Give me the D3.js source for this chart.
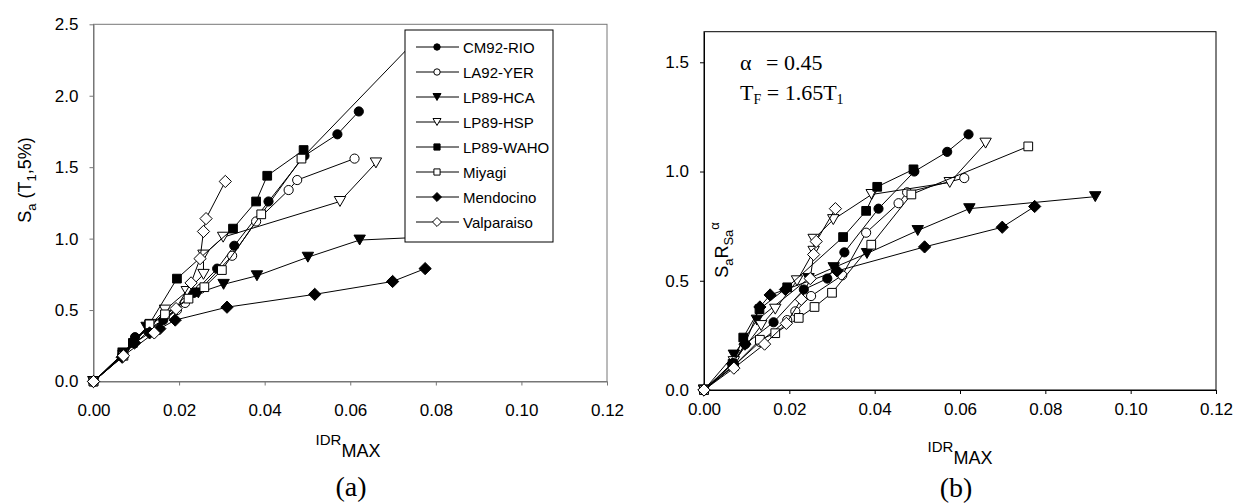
<!DOCTYPE html>
<html>
<head>
<meta charset="utf-8">
<script src="https://cdn.jsdelivr.net/npm/d3@7"></script>
<style>
body { margin: 0; background: #fff; }
text { font-family: Arial, "Liberation Sans", sans-serif; }
.serif { font-family: "Times New Roman", "Liberation Serif", serif; }
</style>
</head>
<body>
<div id="chart"></div>
<script>
var seriesNames = ["CM92-RIO", "LA92-YER", "LP89-HCA", "LP89-HSP", "LP89-WAHO", "Miyagi", "Mendocino", "Valparaiso"];
var xTicks = [0, 0.02, 0.04, 0.06, 0.08, 0.10, 0.12];
var yTicksA = [0, 0.5, 1.0, 1.5, 2.0, 2.5];
var yTicksB = [0, 0.5, 1.0, 1.5];

// panel (a): [IDR_MAX, Sa(T1,5%)]
var cm92A = [[0,0],[0.0067,0.18],[0.0097,0.31],[0.0163,0.43],[0.0234,0.62],[0.0289,0.79],[0.0329,0.95],[0.0409,1.26],[0.0493,1.58],[0.0570,1.73],[0.0620,1.89]];
var la92A = [[0,0],[0.0070,0.19],[0.0131,0.36],[0.0195,0.50],[0.0214,0.55],[0.0251,0.65],[0.0324,0.88],[0.0380,1.12],[0.0456,1.34],[0.0476,1.41],[0.0610,1.56]];
var hcaA = [[0,0],[0.0070,0.20],[0.0124,0.38],[0.0245,0.62],[0.0304,0.68],[0.0382,0.74],[0.0501,0.87],[0.0622,0.99],[0.0917,1.03]];
var hspA = [[0,0],[0.0070,0.19],[0.0134,0.40],[0.0167,0.50],[0.0218,0.63],[0.0257,0.75],[0.0257,0.885],[0.0303,1.01],[0.0576,1.26],[0.0660,1.53]];
var wahoA = [[0,0],[0.0067,0.19],[0.0092,0.27],[0.0130,0.40],[0.0195,0.72],[0.0326,1.07],[0.0380,1.26],[0.0406,1.44],[0.0491,1.62]];
var miyagiA = [[0,0],[0.0070,0.18],[0.0131,0.40],[0.0167,0.47],[0.0222,0.58],[0.0259,0.66],[0.0300,0.78],[0.0392,1.17],[0.0486,1.56],[0.0760,2.41]];
var mendoA = [[0,0],[0.0067,0.17],[0.0096,0.27],[0.0131,0.34],[0.0155,0.37],[0.0191,0.43],[0.0312,0.52],[0.0517,0.61],[0.0699,0.70],[0.0775,0.79]];
var valpA = [[0,0],[0.0070,0.18],[0.0142,0.34],[0.0193,0.51],[0.0228,0.69],[0.0249,0.86],[0.0257,1.05],[0.0263,1.14],[0.0308,1.40]];

// panel (b): [IDR_MAX, Sa*RSa^alpha]
var cm92B = [[0,0],[0.0067,0.11],[0.0097,0.21],[0.0163,0.31],[0.0234,0.46],[0.0289,0.51],[0.0329,0.63],[0.0409,0.83],[0.0493,1.00],[0.0570,1.09],[0.0620,1.17]];
var la92B = [[0,0],[0.0070,0.11],[0.0131,0.22],[0.0195,0.32],[0.0214,0.36],[0.0251,0.43],[0.0324,0.525],[0.0380,0.72],[0.0456,0.855],[0.0476,0.905],[0.0610,0.97]];
var hcaB = [[0,0],[0.0070,0.16],[0.0124,0.32],[0.0245,0.51],[0.0304,0.56],[0.0382,0.625],[0.0501,0.73],[0.0622,0.83],[0.0917,0.885]];
var hspB = [[0,0],[0.0070,0.13],[0.0134,0.295],[0.0167,0.37],[0.0218,0.50],[0.0257,0.635],[0.0257,0.69],[0.0303,0.78],[0.0393,0.895],[0.0576,0.95],[0.0660,1.13]];
var wahoB = [[0,0],[0.0067,0.12],[0.0092,0.24],[0.0130,0.37],[0.0195,0.47],[0.0326,0.70],[0.0380,0.82],[0.0406,0.93],[0.0491,1.01]];
var miyagiB = [[0,0],[0.0070,0.11],[0.0131,0.23],[0.0167,0.26],[0.0222,0.33],[0.0259,0.38],[0.0300,0.445],[0.0392,0.665],[0.0486,0.895],[0.0760,1.115]];
var mendoB = [[0,0],[0.0067,0.12],[0.0096,0.21],[0.0131,0.38],[0.0155,0.435],[0.0191,0.46],[0.0312,0.545],[0.0517,0.655],[0.0699,0.745],[0.0775,0.84]];
var valpB = [[0,0],[0.0070,0.10],[0.0142,0.21],[0.0193,0.305],[0.0228,0.415],[0.0249,0.51],[0.0257,0.62],[0.0263,0.68],[0.0308,0.83]];

var dataA = [cm92A, la92A, hcaA, hspA, wahoA, miyagiA, mendoA, valpA];
var dataB = [cm92B, la92B, hcaB, hspB, wahoB, miyagiB, mendoB, valpB];

// custom symbols (size = width squared)
var triDown = {
    draw: function(ctx, size) {
        var s = Math.sqrt(size), h = s * 0.87;
        ctx.moveTo(-s / 2, -h / 2);
        ctx.lineTo(s / 2, -h / 2);
        ctx.lineTo(0, h / 2);
        ctx.closePath();
    }
};
var diamond = {
    draw: function(ctx, size) {
        var r = Math.sqrt(size) / 2;
        ctx.moveTo(0, -r);
        ctx.lineTo(r, 0);
        ctx.lineTo(0, r);
        ctx.lineTo(-r, 0);
        ctx.closePath();
    }
};
var shapes = [d3.symbolCircle, d3.symbolCircle, triDown, triDown, d3.symbolSquare, d3.symbolSquare, diamond, diamond];
var filled = [true, false, true, false, true, false, true, false];
var bigSize = [66, 66, 130, 130, 76, 76, 150, 150];
var smallSize = [32, 32, 64, 64, 38, 38, 80, 80];

var svg = d3.select("#chart").append("svg")
    .attr("width", 1234)
    .attr("height", 504);

function drawPanel(data, x, y, yTicks, frameColor, xPad) {
    var g = svg.append("g");
    var x0 = x.range()[0], x1 = x.range()[1];
    var y0 = y.range()[0], y1 = y.range()[1];

    g.append("rect")
        .attr("x", x0).attr("y", y1)
        .attr("width", x1 - x0).attr("height", y0 - y1)
        .attr("fill", "none")
        .attr("stroke", frameColor)
        .attr("stroke-width", 1);

    var xAxis = g.append("g")
        .attr("transform", "translate(0," + y0 + ")")
        .call(d3.axisBottom(x).tickValues(xTicks).tickFormat(d3.format(".2f")).tickSizeOuter(0).tickSizeInner(4).tickPadding(xPad));
    var yAxis = g.append("g")
        .attr("transform", "translate(" + x0 + ",0)")
        .call(d3.axisLeft(y).tickValues(yTicks).tickFormat(d3.format(".1f")).tickSizeOuter(0).tickSizeInner(4).tickPadding(11));
    [xAxis, yAxis].forEach(function(a) {
        a.select(".domain").attr("stroke", frameColor);
        a.selectAll(".tick line").attr("stroke", frameColor);
        a.selectAll(".tick text")
            .attr("fill", "#000")
            .style("font-size", "17px")
            .style("font-family", "Arial, 'Liberation Sans', sans-serif");
    });

    var line = d3.line()
        .x(function(d) { return x(d[0]); })
        .y(function(d) { return y(d[1]); });

    data.forEach(function(series, i) {
        g.append("path")
            .datum(series)
            .attr("d", line)
            .attr("fill", "none")
            .attr("stroke", "#000")
            .attr("stroke-width", 1);
        g.selectAll(".m" + i)
            .data(series)
            .enter()
            .append("path")
            .attr("class", "m" + i)
            .attr("transform", function(d) { return "translate(" + x(d[0]) + "," + y(d[1]) + ")"; })
            .attr("d", d3.symbol().type(shapes[i]).size(bigSize[i]))
            .attr("fill", filled[i] ? "#000" : "#fff")
            .attr("stroke", "#000")
            .attr("stroke-width", 1);
    });
    return g;
}

// ---------- panel (a)
var xA = d3.scaleLinear().domain([0, 0.12]).range([93.5, 607]);
var yA = d3.scaleLinear().domain([0, 2.5]).range([381.5, 24.3]);
drawPanel(dataA, xA, yA, yTicksA, "#777", 18);

// legend
var legend = svg.append("g").attr("transform", "translate(405,30)");
legend.append("rect")
    .attr("width", 148).attr("height", 212)
    .attr("fill", "#fff").attr("stroke", "#000").attr("stroke-width", 1);
seriesNames.forEach(function(name, i) {
    var ry = 17 + i * 25;
    legend.append("line")
        .attr("x1", 11).attr("x2", 54)
        .attr("y1", ry).attr("y2", ry)
        .attr("stroke", "#000");
    legend.append("path")
        .attr("transform", "translate(32," + ry + ")")
        .attr("d", d3.symbol().type(shapes[i]).size(smallSize[i]))
        .attr("fill", filled[i] ? "#000" : "#fff")
        .attr("stroke", "#000");
    legend.append("text")
        .attr("x", 58).attr("y", ry + 5.5)
        .style("font-size", "15px")
        .text(name);
});

// y title (a)
var ytA = svg.append("text")
    .attr("transform", "translate(31,180) rotate(-90)")
    .attr("text-anchor", "middle")
    .style("font-size", "18px");
ytA.append("tspan").text("S");
ytA.append("tspan").attr("dy", 5).style("font-size", "13px").text("a");
ytA.append("tspan").attr("dy", -5).text(" (T");
ytA.append("tspan").attr("dy", 5).style("font-size", "13px").text("1");
ytA.append("tspan").attr("dy", -5).text(",5%)");

// x title
function xTitle(cx, cy) {
    var t = svg.append("text")
        .attr("x", cx).attr("y", cy)
        .attr("text-anchor", "middle");
    t.append("tspan").style("font-size", "15px").text("IDR");
    t.append("tspan").attr("dy", 12).style("font-size", "18px").text("MAX");
}
xTitle(348, 445);

svg.append("text")
    .attr("class", "serif")
    .attr("x", 351).attr("y", 496)
    .attr("text-anchor", "middle")
    .style("font-size", "28px")
    .text("(a)");

// ---------- panel (b)
var xB = d3.scaleLinear().domain([0, 0.12]).range([704, 1216]);
var yB = d3.scaleLinear().domain([0, 1.64]).range([390, 31.7]);
drawPanel(dataB, xB, yB, yTicksB, "#000", 9);

var ytB = svg.append("text")
    .attr("transform", "translate(728,250) rotate(-90)")
    .attr("text-anchor", "middle")
    .style("font-size", "18px");
ytB.append("tspan").text("S");
ytB.append("tspan").attr("dy", 5).style("font-size", "13px").text("a");
ytB.append("tspan").attr("dy", -5).text("R");
ytB.append("tspan").attr("dy", 5).style("font-size", "13px").text("Sa");
ytB.append("tspan").attr("dy", -14).style("font-size", "13px").text("α");

xTitle(960, 452);

svg.append("text")
    .attr("class", "serif")
    .attr("x", 956).attr("y", 497)
    .attr("text-anchor", "middle")
    .style("font-size", "28px")
    .text("(b)");

var note1 = svg.append("text")
    .attr("class", "serif")
    .attr("x", 740).attr("y", 70)
    .style("font-size", "22px");
note1.append("tspan").text("α");
note1.append("tspan").attr("x", 766).text("= 0.45");

var note2 = svg.append("text")
    .attr("class", "serif")
    .attr("x", 740).attr("y", 100)
    .style("font-size", "22px");
note2.append("tspan").text("T");
note2.append("tspan").attr("dy", 4).style("font-size", "14px").text("F");
note2.append("tspan").attr("dy", -4).text(" = 1.65T");
note2.append("tspan").attr("dy", 4).style("font-size", "14px").text("1");
</script>
</body>
</html>
